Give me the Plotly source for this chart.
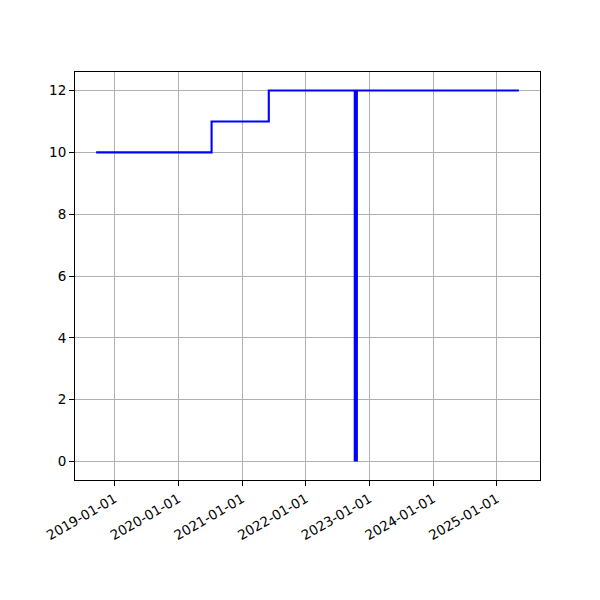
import plotly.graph_objects as go
import pandas as pd

# step series
step_dates = ["2018-09-17", "2020-07-10", "2021-06-03", "2025-05-07"]
step_values = [10, 11, 12, 12]
# vertical marker line
marker_date = "2022-10-15"
marker_values = [0, 12]
tick_dates = ["2019-01-01", "2020-01-01", "2021-01-01", "2022-01-01",
              "2023-01-01", "2024-01-01", "2025-01-01"]
y_ticks = [0, 2, 4, 6, 8, 10, 12]

d = pd.to_datetime(step_dates)
span = d.max() - d.min()
xr = [d.min() - span * 0.05, d.max() + span * 0.05]
ymin, ymax = 0, 12
yr = [ymin - 0.05 * (ymax - ymin), ymax + 0.05 * (ymax - ymin)]

fig = go.Figure()
fig.add_trace(go.Scatter(x=step_dates, y=step_values, mode="lines",
                         line=dict(color="blue", width=2.1, shape="hv"),
                         showlegend=False))
fig.add_trace(go.Scatter(x=[marker_date, marker_date], y=marker_values, mode="lines",
                         line=dict(color="blue", width=4.2),
                         showlegend=False))

axis_common = dict(showline=True, linecolor="black", linewidth=1, mirror=True,
                   ticks="outside", ticklen=5, tickcolor="black", tickwidth=1,
                   showgrid=True, gridcolor="#b0b0b0", gridwidth=1, zeroline=False,
                   tickfont=dict(family="DejaVu Sans", size=13.5, color="black"))
fig.update_xaxes(type="date", range=[xr[0], xr[1]], tickvals=tick_dates,
                 ticktext=tick_dates, tickangle=-30, **axis_common)
fig.update_yaxes(range=yr, tickvals=y_ticks, **axis_common)
fig.update_layout(width=592, height=592, plot_bgcolor="white", paper_bgcolor="white",
                  margin=dict(l=67, r=60, t=64, b=120, autoexpand=False))
fig.write_html("out.html")
